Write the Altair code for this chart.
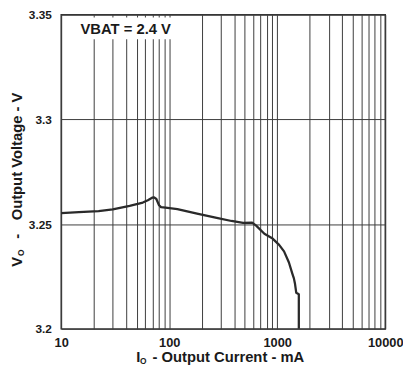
import altair as alt
import pandas as pd

# Output current (mA) and output voltage (V)
current_ma = [10, 14.6, 22.2, 30.0, 43.0, 57.0, 63.4, 69.5, 72.5, 76.0, 80.5, 84.0,
              96.6, 119, 181, 275, 377, 483, 586, 638, 760, 906, 1041, 1156,
              1283, 1379, 1426, 1457, 1500, 1584, 1584]
voltage_v = [3.2553, 3.2557, 3.2562, 3.2570, 3.2587, 3.2603, 3.2614, 3.2626, 3.2628, 3.2620, 3.2590, 3.2581,
             3.2577, 3.2572, 3.2550, 3.2530, 3.2515, 3.2506, 3.2507, 3.2493, 3.2454, 3.2431, 3.2401, 3.2370,
             3.2317, 3.2264, 3.2241, 3.2218, 3.2172, 3.2165, 3.2000]

x_labels = [10, 100, 1000, 10000]
x_grid = [m * d for d in [10, 100, 1000] for m in range(1, 10)] + [10000]
y_ticks = [3.2, 3.25, 3.3, 3.35]

annotation = "VBAT = 2.4 V"
x_title_main, x_title_sym, x_title_sub = "- Output Current - mA", "I", "O"
y_title_main, y_title_dash, y_title_sym, y_title_sub = "Output Voltage - V", "-", "V", "O"

df = pd.DataFrame({"I": current_ma, "V": voltage_v, "idx": list(range(len(current_ma)))})

FONT = "Liberation Sans"
one = pd.DataFrame({"a": [0]})

x_enc = alt.X(
    "I:Q",
    scale=alt.Scale(type="log", domain=[10, 10000]),
    axis=alt.Axis(
        values=x_grid, format="d",
        labelExpr="(datum.value==10||datum.value==100||datum.value==1000||datum.value==10000) ? datum.label : ''",
        labelOverlap=False, labelFlush=False, ticks=False, tickSize=0, domain=False,
        grid=True, gridColor="#3c3c3c", gridWidth=1, gridOpacity=1,
        labelFont=FONT, labelFontWeight="bold", labelFontSize=13, labelColor="#1a1a1a",
        labelPadding=7.5, title="",
    ),
)
y_enc = alt.Y(
    "V:Q",
    scale=alt.Scale(domain=[3.2, 3.35], nice=False, zero=False),
    axis=alt.Axis(
        values=y_ticks, format=".2~f", ticks=False, tickSize=0, domain=False,
        grid=True, gridColor="#3c3c3c", gridWidth=1, gridOpacity=1,
        labelFont=FONT, labelFontWeight="bold", labelFontSize=12, labelColor="#1a1a1a",
        labelPadding=10, labelOverlap=False, labelFlush=False, title="",
    ),
)

line = alt.Chart(df).mark_line(color="#2a2a2a", strokeWidth=2.3, strokeJoin="round").encode(
    x=x_enc, y=y_enc, order="idx:Q"
)

box = alt.Chart(one).mark_rect(color="white").encode(
    x=alt.value(11), x2=alt.value(118), y=alt.value(3), y2=alt.value(25)
)

def txt(text, x, y, size, angle=0, align="left"):
    return alt.Chart(one).mark_text(
        text=text, font=FONT, fontWeight="bold", fontSize=size, color="#1a1a1a",
        align=align, baseline="alphabetic", angle=angle,
    ).encode(x=alt.value(x), y=alt.value(y))

ann = txt(annotation, 65.5, 19.7, 15, align="center")

xt1 = txt(x_title_sym, 76.3, 353, 15)
xt2 = txt(x_title_sub, 80.0, 355, 8.5)
xt3 = txt(x_title_main, 169.7, 353, 15, align="center")

yt1 = txt(y_title_sym, -39.5, 256, 15, angle=270)
yt2 = txt(y_title_sub, -37.5, 245, 8.5, angle=270)
yt3 = txt(y_title_dash, -39.5, 227.5, 15, angle=270)
yt4 = txt(y_title_main, -39.5, 208.8, 15, angle=270)

chart = alt.layer(line, box, ann, xt1, xt2, xt3, yt1, yt2, yt3, yt4).properties(
    width=329, height=319,
    padding={"left": 54, "top": 4, "right": 18, "bottom": 38},
    autosize=alt.AutoSizeParams(type="none"),
    background="white",
).configure_view(stroke="#333333", strokeWidth=1.5)

chart.save("out.html", embed_options={"renderer": "svg", "actions": False})
